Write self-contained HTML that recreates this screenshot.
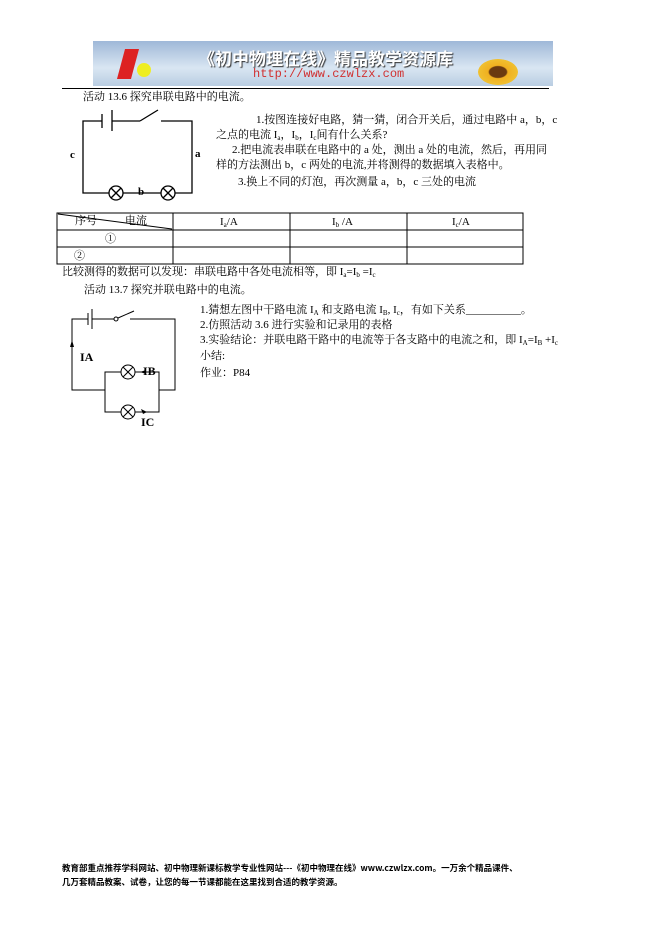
<html><head><style>
body{margin:0;width:661px;height:936px;background:#fff;position:relative;font-family:"Liberation Serif","Noto Serif CJK SC","Noto Sans CJK SC",serif;color:#000;}
.t{position:absolute;font-size:11px;white-space:nowrap;line-height:13px}
sub{font-size:7px;vertical-align:-2px}
</style></head><body>
<div style="position:absolute;left:93px;top:41px;width:460px;height:45px;background:linear-gradient(180deg,#9fb8d8,#d9e6f2 60%,#b9cde2)">
<div style="position:absolute;left:28px;top:8px;width:14px;height:30px;background:#d22;transform:skewX(-15deg)"></div>
<div style="position:absolute;left:44px;top:22px;width:14px;height:14px;background:#ee2;border-radius:50%"></div>
<div style="position:absolute;left:105px;top:4px;font-size:17px;color:#fff;font-weight:bold;font-family:'Noto Sans CJK SC',sans-serif;text-shadow:1px 1px 1px #333">《初中物理在线》精品教学资源库</div>
<div style="position:absolute;left:160px;top:26px;font-size:12px;color:#d03030;font-family:'Liberation Mono',monospace">http://www.czwlzx.com</div>
<div style="position:absolute;left:385px;top:18px;width:40px;height:26px;border-radius:50%;background:radial-gradient(#6a3a10 30%,#f0b020 35%,#f0c030 70%,transparent 72%)"></div>
</div>
<div style="position:absolute;left:62px;top:88px;width:487px;height:1px;background:#000"></div>

<div class="t" style="left:83px;top:91px">活动 13.6 探究串联电路中的电流。</div>
<div class="t" style="left:256px;top:114px">1.按图连接好电路，猜一猜，闭合开关后，通过电路中 a，b，c</div>
<div class="t" style="left:216px;top:129px">之点的电流 I<sub>a</sub>，I<sub>b</sub>，I<sub>c</sub>间有什么关系?</div>
<div class="t" style="left:232px;top:144px">2.把电流表串联在电路中的 a 处，测出 a 处的电流，然后，再用同</div>
<div class="t" style="left:216px;top:159px">样的方法测出 b，c 两处的电流,并将测得的数据填入表格中。</div>
<div class="t" style="left:238px;top:176px">3.换上不同的灯泡，再次测量 a，b，c 三处的电流</div>

<svg style="position:absolute;left:0;top:0" width="661" height="936">
<g stroke="#000" stroke-width="1.3" fill="none">
<polyline points="102,121 83,121 83,193 109,193"/>
<polyline points="123,193 161,193"/><polyline points="175,193 192,193 192,121 161,121"/>
<line x1="102" y1="114" x2="102" y2="128"/><line x1="112" y1="110" x2="112" y2="131"/>
<line x1="112" y1="121" x2="140" y2="121"/><line x1="140" y1="121" x2="158" y2="110"/>
<circle cx="116" cy="193" r="7"/><line x1="111" y1="188" x2="121" y2="198"/><line x1="121" y1="188" x2="111" y2="198"/>
<circle cx="168" cy="193" r="7"/><line x1="163" y1="188" x2="173" y2="198"/><line x1="173" y1="188" x2="163" y2="198"/>
</g>
<g stroke="#000" stroke-width="1" fill="none">
<rect x="57" y="213" width="466" height="51"/>
<line x1="57" y1="230" x2="523" y2="230"/><line x1="57" y1="247" x2="523" y2="247"/>
<line x1="173" y1="213" x2="173" y2="264"/><line x1="290" y1="213" x2="290" y2="264"/><line x1="407" y1="213" x2="407" y2="264"/>
<line x1="58" y1="214" x2="172" y2="229"/>
</g>
<g stroke="#000" stroke-width="1" fill="none">
<polyline points="88,319 72,319 72,390 105,390"/>
<line x1="88" y1="313" x2="88" y2="325"/><line x1="92" y1="309" x2="92" y2="329"/>
<line x1="92" y1="319" x2="114" y2="319"/><circle cx="116" cy="319" r="2"/><line x1="118" y1="318" x2="134" y2="311"/>
<polyline points="130,319 175,319 175,390 159,390"/>
<polyline points="121,372 105,372 105,412 121,412"/>
<polyline points="135,372 159,372 159,412 135,412"/>
<circle cx="128" cy="372" r="7"/><line x1="123" y1="367" x2="133" y2="377"/><line x1="133" y1="367" x2="123" y2="377"/>
<circle cx="128" cy="412" r="7"/><line x1="123" y1="407" x2="133" y2="417"/><line x1="133" y1="407" x2="123" y2="417"/>
</g>
<polygon points="72,340 70,347 74,347" fill="#000"/>
<polygon points="140,372 146,370 146,374" fill="#000"/>
<polygon points="147,412 141,409 143,414" fill="#000"/>
</svg>
<div class="t" style="left:70px;top:149px;font-weight:bold">c</div>
<div class="t" style="left:195px;top:148px;font-weight:bold">a</div>
<div class="t" style="left:138px;top:186px;font-weight:bold">b</div>

<div class="t" style="left:75px;top:215px;font-size:11px">序号</div>
<div class="t" style="left:125px;top:215px">电流</div>
<div class="t" style="left:220px;top:216px">I<sub>a</sub>/A</div>
<div class="t" style="left:332px;top:216px">I<sub>b</sub> /A</div>
<div class="t" style="left:452px;top:216px">I<sub>c</sub>/A</div>
<div class="t" style="left:105px;top:233px">①</div>
<div class="t" style="left:74px;top:250px">②</div>

<div class="t" style="left:62px;top:266px">比较测得的数据可以发现：串联电路中各处电流相等，即 I<sub>a</sub>=I<sub>b</sub> =I<sub>c</sub></div>
<div class="t" style="left:84px;top:284px">活动 13.7 探究并联电路中的电流。</div>
<div class="t" style="left:200px;top:304px">1.猜想左图中干路电流 I<sub>A</sub> 和支路电流 I<sub>B</sub>, I<sub>c</sub>，有如下关系__________。</div>
<div class="t" style="left:200px;top:319px">2.仿照活动 3.6 进行实验和记录用的表格</div>
<div class="t" style="left:200px;top:334px">3.实验结论：并联电路干路中的电流等于各支路中的电流之和，即 I<sub>A</sub>=I<sub>B</sub> +I<sub>c</sub></div>
<div class="t" style="left:200px;top:350px">小结:</div>
<div class="t" style="left:200px;top:367px">作业：P84</div>
<div class="t" style="left:80px;top:351px;font-weight:bold;font-size:12px">IA</div>
<div class="t" style="left:143px;top:365px;font-weight:bold;font-size:12px">IB</div>
<div class="t" style="left:141px;top:416px;font-weight:bold;font-size:12px">IC</div>

<div class="t" style="left:62px;top:862px;font-size:8.5px;font-weight:bold;font-family:'Noto Sans CJK SC',sans-serif">教育部重点推荐学科网站、初中物理新课标教学专业性网站---《初中物理在线》www.czwlzx.com。一万余个精品课件、</div>
<div class="t" style="left:62px;top:876px;font-size:8.5px;font-weight:bold;font-family:'Noto Sans CJK SC',sans-serif">几万套精品教案、试卷，让您的每一节课都能在这里找到合适的教学资源。</div>
</body></html>
